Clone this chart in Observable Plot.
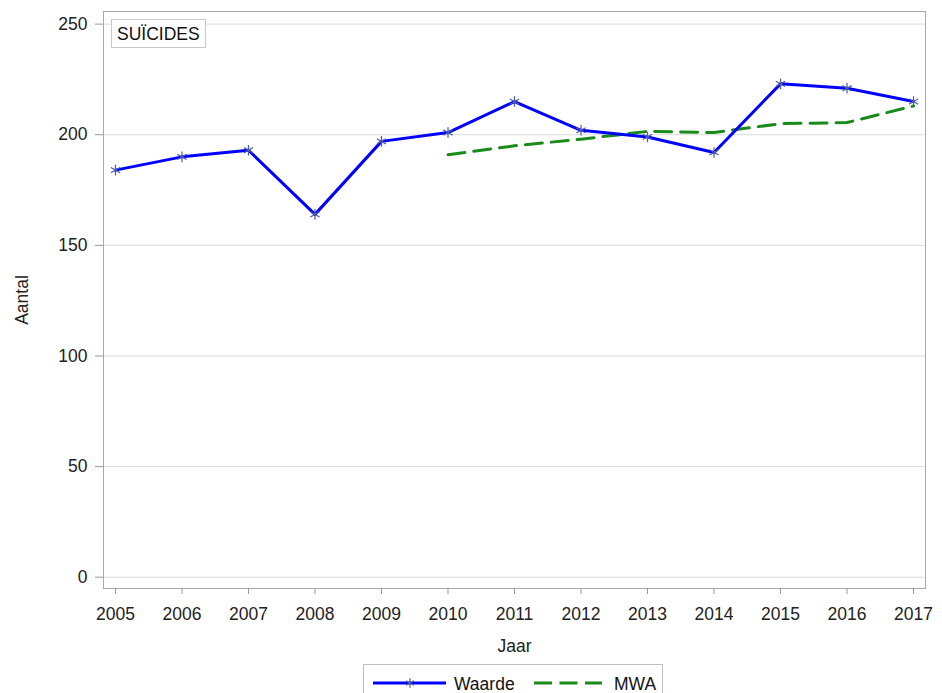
<!DOCTYPE html>
<html><head><meta charset="utf-8">
<script src="https://cdn.jsdelivr.net/npm/d3@7"></script>
<script src="https://cdn.jsdelivr.net/npm/@observablehq/plot@0.6"></script>
<style>
body{margin:0;background:#fff;font-family:"Liberation Sans",Arial,sans-serif;}
#wrap{position:relative;width:942px;height:693px;overflow:hidden;}
#tag{position:absolute;left:111px;top:19px;border:1px solid #c8c8c8;padding:3px 5px 2px 5px;font-size:17.5px;color:#111;background:#fff;line-height:22px;}
#legend{position:absolute;left:363px;top:664px;width:298px;height:36px;border:1px solid #c0c0c0;color:#111;}
#legend svg{position:absolute;left:0;top:0;}
</style></head>
<body><div id="wrap"><div id="chart"></div><div id="tag">SUÏCIDES</div><div id="legend"></div></div>
<script>
const years = [2005,2006,2007,2008,2009,2010,2011,2012,2013,2014,2015,2016,2017];
const waarde = [184,190,193,164,197,201,215,202,199,192,223,221,215];
const mwaYears = [2010,2011,2012,2013,2014,2015,2016,2017];
const mwa = [191,195,198,201.5,201,205,205.5,213];
const yTicks = [0,50,100,150,200,250];
const seriesNames = ["Waarde","MWA"];

const dW = years.map((y,i)=>({jaar:y, aantal:waarde[i]}));
const dM = mwaYears.map((y,i)=>({jaar:y, aantal:mwa[i]}));

const blue = "#0000ff", markerCol = "#4a5aa8", green = "#1a8a1a";

const chart = Plot.plot({
  width: 942, height: 666,
  marginLeft: 103, marginRight: 17, marginTop: 11, marginBottom: 78,
  style: {fontFamily: '"Liberation Sans", Arial, sans-serif', fontSize: "17.5px", color: "#222", background: "#fff"},
  x: {domain: [2004.82, 2017.18]},
  y: {domain: [-5.1, 255.7]},
  marks: [
    Plot.gridY(yTicks, {stroke: "#dcdcdc", strokeOpacity: 1}),
    Plot.frame({stroke: "#a8a8a8"}),
    Plot.axisX(years, {tickFormat: d => String(d), tickSize: 6, tickPadding: 13, stroke: "#999", label: "Jaar", labelAnchor: "center", labelOffset: 63, labelArrow: "none"}),
    Plot.axisY(yTicks, {tickSize: 8, tickPadding: 8, stroke: "#999", label: "Aantal", labelAnchor: "center", labelOffset: 88, labelArrow: "none"}),
    Plot.line(dM, {x: "jaar", y: "aantal", stroke: green, strokeWidth: 3, strokeDasharray: "17,9", curve: "linear"}),
    Plot.line(dW, {x: "jaar", y: "aantal", stroke: blue, strokeWidth: 3}),
    Plot.dot(dW, {x: "jaar", y: "aantal", symbol: "asterisk", r: 5, stroke: markerCol, strokeWidth: 1.2})
  ]
});
document.getElementById("chart").appendChild(chart);

// legend
const lg = d3.select("#legend").append("svg").attr("width", 298).attr("height", 36)
  .style("font-family", '"Liberation Sans", Arial, sans-serif');
lg.append("line").attr("x1", 9).attr("x2", 82).attr("y1", 18).attr("y2", 18).attr("stroke", blue).attr("stroke-width", 3);
const sym = d3.symbol(d3.symbolAsterisk, 60)();
lg.append("path").attr("d", sym).attr("transform", "translate(46,18)").attr("stroke", markerCol).attr("stroke-width", 1.2).attr("fill", "none");
lg.append("text").attr("x", 90).attr("y", 24.5).text(seriesNames[0]).attr("font-size", 17.5).attr("fill", "#111");
lg.append("line").attr("x1", 170).attr("x2", 238).attr("y1", 18).attr("y2", 18).attr("stroke", green).attr("stroke-width", 3).attr("stroke-dasharray", "18,7.5");
lg.append("text").attr("x", 250).attr("y", 24.5).text(seriesNames[1]).attr("font-size", 17.5).attr("fill", "#111");
</script></body></html>
